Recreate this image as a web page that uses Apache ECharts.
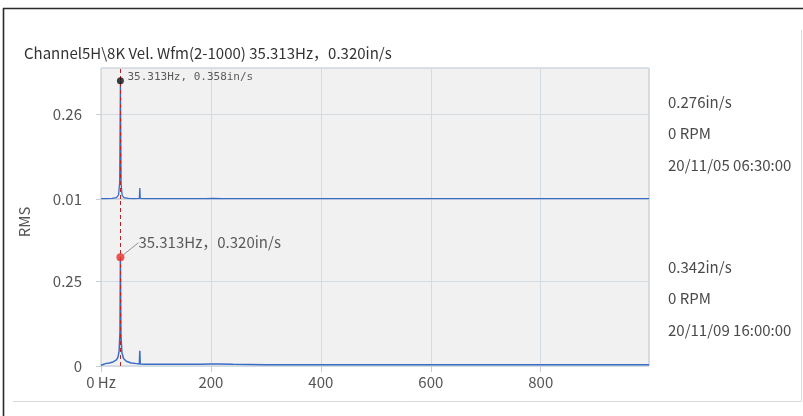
<!DOCTYPE html>
<html>
<head>
<meta charset="utf-8">
<script src="https://cdn.jsdelivr.net/npm/echarts@6/dist/echarts.min.js"></script>
<style>
  html, body { margin: 0; padding: 0; background: #ffffff; }
  #chart { width: 803px; height: 416px; }
</style>
</head>
<body>
<div id="chart"></div>
<script>
// Waveform spectrum: two stacked traces of the same channel, cursor at 1x running speed.
const titleText = 'Channel5H\\8K Vel. Wfm(2-1000) 35.313Hz，0.320in/s';
const axisName = 'RMS';

const cursorFreq = 35.313;
const peakTop = 0.358;
const peakBottom = 0.320;
const peakTopLabel = '35.313Hz, 0.358in/s';
const peakBottomLabel = '35.313Hz，0.320in/s';

// Upper trace (20/11/05), plotted on its own offset axis
const freqTop = [0, 2, 10, 20, 28, 32, 34, 35.313, 36.6, 38.5, 42, 50, 60, 69.8, 70.6, 71.4, 80, 100, 140, 190, 205, 220, 300, 400, 500, 600, 700, 800, 900, 997];
const valsTop = [0.011, 0.012, 0.011, 0.012, 0.014, 0.022, 0.060, 0.358, 0.055, 0.020, 0.014, 0.012, 0.011, 0.012, 0.042, 0.012, 0.011, 0.011, 0.011, 0.011, 0.012, 0.011, 0.011, 0.011, 0.011, 0.011, 0.011, 0.011, 0.011, 0.011];

// Lower trace (20/11/09)
const freqBottom = [0, 2, 8, 15, 22, 28, 31, 33, 34.5, 35.313, 36.3, 38, 41, 46, 55, 65, 69.8, 70.6, 71.4, 80, 100, 108, 111, 114, 140, 180, 200, 215, 240, 300, 400, 500, 600, 700, 800, 900, 997];
const valsBottom = [0.002, 0.006, 0.007, 0.009, 0.012, 0.018, 0.026, 0.045, 0.100, 0.320, 0.090, 0.040, 0.022, 0.014, 0.009, 0.007, 0.006, 0.045, 0.006, 0.005, 0.005, 0.005, 0.009, 0.005, 0.005, 0.005, 0.006, 0.006, 0.005, 0.004, 0.004, 0.004, 0.004, 0.004, 0.004, 0.004, 0.004];

// Side annotations for each trace: overall value, speed, timestamp
const infoTop = ['0.276in/s', '0 RPM', '20/11/05 06:30:00'];
const infoBottom = ['0.342in/s', '0 RPM', '20/11/09 16:00:00'];

const FONT = '"Noto Sans CJK JP", "Noto Sans", sans-serif';
const MONO = '"DejaVu Sans Mono", "Liberation Mono", monospace';
const blue = '#3a6cc6';
const gridLine = '#d3dbe3';
const labelColor = '#555';

const zip = (xs, ys) => xs.map((x, i) => [x, ys[i]]);
const fmtY = v => (v === 0 ? '0' : (+v.toFixed(2)).toString());

const chart = echarts.init(document.getElementById('chart'), null, { renderer: 'canvas' });

const infoGraphics = [];
infoTop.forEach((t, i) => infoGraphics.push({
  type: 'text', x: 668, y: 102 + i * 31.5,
  style: { text: t, font: '15px ' + FONT, fill: '#4a4a4a', verticalAlign: 'middle' }
}));
infoBottom.forEach((t, i) => infoGraphics.push({
  type: 'text', x: 668, y: 267 + i * 31.5,
  style: { text: t, font: '15px ' + FONT, fill: '#4a4a4a', verticalAlign: 'middle' }
}));

const TOP_H = 131;
const BOT_H = 167;
const PX_PER_UNIT = 340;

const option = {
  animation: false,
  backgroundColor: '#ffffff',
  textStyle: { fontFamily: FONT },
  title: {
    text: titleText, left: 19, top: 41,
    textStyle: { fontSize: 15, fontWeight: 'normal', color: '#333', fontFamily: FONT }
  },
  grid: [
    { left: 101, right: 154, top: 68, height: TOP_H, show: true, backgroundColor: '#f1f1f1', borderColor: '#bcc7d1', borderWidth: 1 },
    { left: 101, right: 154, top: 68 + TOP_H, height: BOT_H, show: true, backgroundColor: '#f1f1f1', borderColor: '#bcc7d1', borderWidth: 1 }
  ],
  xAxis: [
    {
      gridIndex: 0, type: 'value', min: 0, max: 997, interval: 200,
      axisLine: { show: false }, axisTick: { show: false }, axisLabel: { show: false },
      splitLine: { show: true, lineStyle: { color: gridLine, width: 1 } }
    },
    {
      gridIndex: 1, type: 'value', min: 0, max: 997, interval: 200,
      axisLine: { show: false },
      axisTick: { show: true, length: 6, lineStyle: { color: '#c5ced6' } },
      axisLabel: {
        margin: 9, fontSize: 15, color: labelColor, fontFamily: FONT, showMaxLabel: false,
        formatter: v => (v === 0 ? '0 Hz' : String(v))
      },
      splitLine: { show: true, lineStyle: { color: gridLine, width: 1 } }
    }
  ],
  yAxis: [
    {
      gridIndex: 0, type: 'value', min: 0.01, max: 0.01 + TOP_H / PX_PER_UNIT, interval: 0.25,
      axisLine: { show: false },
      axisTick: { show: true, length: 5, lineStyle: { color: '#c5ced6' } },
      axisLabel: { margin: 19, fontSize: 15, color: labelColor, fontFamily: FONT, showMaxLabel: false, formatter: fmtY },
      splitLine: { show: true, lineStyle: { color: gridLine, width: 1 } }
    },
    {
      gridIndex: 1, type: 'value', min: 0, max: BOT_H / PX_PER_UNIT, interval: 0.25,
      axisLine: { show: false },
      axisTick: { show: true, length: 5, lineStyle: { color: '#c5ced6' } },
      axisLabel: { margin: 19, fontSize: 15, color: labelColor, fontFamily: FONT, showMaxLabel: false, formatter: fmtY },
      splitLine: { show: true, lineStyle: { color: gridLine, width: 1 } }
    }
  ],
  series: [
    {
      type: 'line', xAxisIndex: 0, yAxisIndex: 0, data: zip(freqTop, valsTop),
      showSymbol: false, lineStyle: { color: blue, width: 1.3 }, z: 3,
      markLine: {
        silent: true, symbol: 'none', label: { show: false },
        lineStyle: { color: '#b3262b', type: [4, 3], width: 1 },
        data: [{ xAxis: cursorFreq }]
      }
    },
    {
      type: 'line', xAxisIndex: 1, yAxisIndex: 1, data: zip(freqBottom, valsBottom),
      showSymbol: false, lineStyle: { color: blue, width: 1.5 }, z: 3,
      markLine: {
        silent: true, symbol: 'none', label: { show: false },
        lineStyle: { color: '#b3262b', type: [4, 3], width: 1 },
        data: [{ xAxis: cursorFreq }]
      }
    },
    {
      type: 'scatter', xAxisIndex: 0, yAxisIndex: 0, z: 5,
      data: [[cursorFreq, peakTop]],
      symbol: 'circle', symbolSize: 7, itemStyle: { color: '#111' },
      label: {
        show: true, position: [10.5, -6], formatter: peakTopLabel,
        fontSize: 11, color: '#333', fontFamily: MONO
      }
    },
    {
      type: 'scatter', xAxisIndex: 1, yAxisIndex: 1, z: 5,
      data: [[cursorFreq, peakBottom]],
      symbol: 'circle', symbolSize: 8, itemStyle: { color: '#e8302a' },
      label: {
        show: true, position: 'right', distance: 4, formatter: peakBottomLabel,
        fontSize: 15, color: '#333', fontFamily: FONT
      },
      labelLayout: { dx: 10, dy: -14.5 },
      labelLine: { show: true, length2: 0, lineStyle: { color: '#777', width: 0.8 } }
    }
  ],
  graphic: [
    // outer panel frame
    { type: 'line', shape: { x1: 3.5, y1: 8, x2: 3.5, y2: 416 }, style: { stroke: '#2a2a2a', lineWidth: 1.6 } },
    { type: 'line', shape: { x1: 3, y1: 8.5, x2: 803, y2: 8.5 }, style: { stroke: '#2a2a2a', lineWidth: 1.6 } },
    // inner light frame
    { type: 'line', shape: { x1: 13, y1: 401.5, x2: 801.5, y2: 401.5 }, style: { stroke: '#d8d8d8', lineWidth: 1 } },
    { type: 'line', shape: { x1: 801.5, y1: 30, x2: 801.5, y2: 401.5 }, style: { stroke: '#d8d8d8', lineWidth: 1 } },
    {
      type: 'text', x: 24, y: 222, rotation: Math.PI / 2,
      style: { text: axisName, font: '15px ' + FONT, fill: labelColor, align: 'center', verticalAlign: 'middle' }
    }
  ].concat(infoGraphics)
};

chart.setOption(option);
</script>
</body>
</html>
